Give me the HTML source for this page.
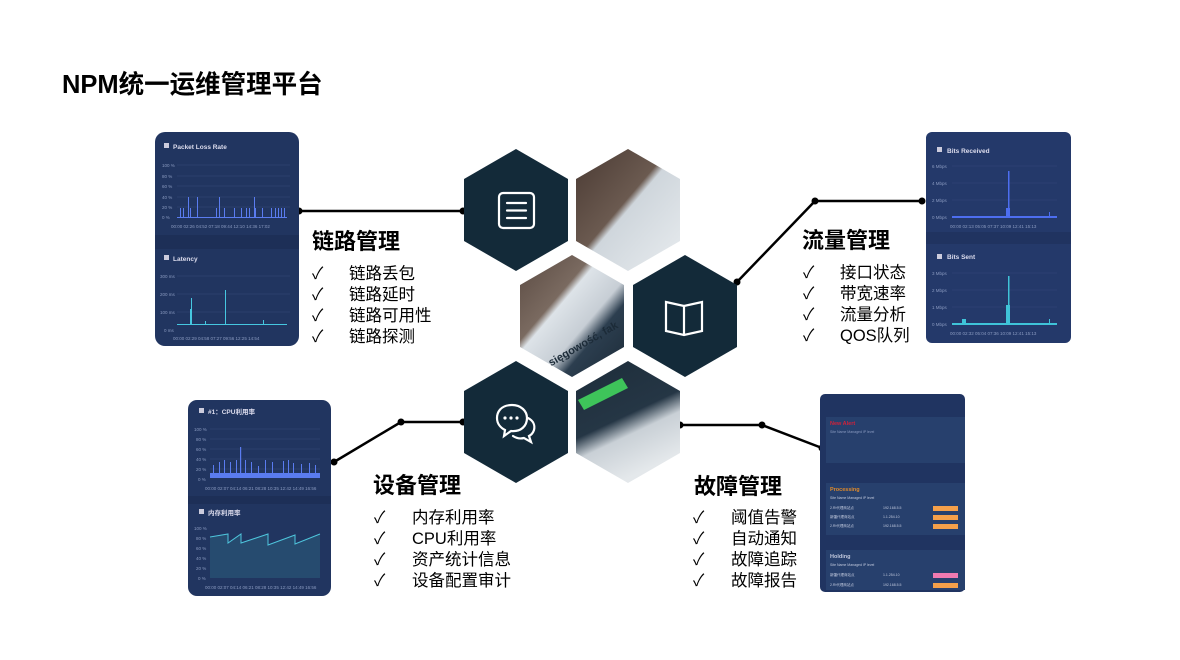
<!DOCTYPE html>
<html><head><meta charset="utf-8"><style>
html,body{margin:0;padding:0;background:#fff;width:1180px;height:660px;overflow:hidden}
svg text{font-family:"Liberation Sans","Noto Sans CJK SC",sans-serif}
</style></head><body>
<svg width="1180" height="660" viewBox="0 0 1180 660" xmlns="http://www.w3.org/2000/svg">
<defs>
<linearGradient id="wood" x1="0" y1="0" x2="1" y2="1"><stop offset="0" stop-color="#4a3a33"/><stop offset="0.45" stop-color="#6b5a50"/><stop offset="0.5" stop-color="#cfd6dc"/><stop offset="1" stop-color="#e8ecef"/></linearGradient>
<linearGradient id="mid" x1="0" y1="0" x2="1" y2="1"><stop offset="0" stop-color="#5a4a42"/><stop offset="0.35" stop-color="#7a6a60"/><stop offset="0.4" stop-color="#dde3e8"/><stop offset="0.6" stop-color="#c7ced5"/><stop offset="0.7" stop-color="#2c3e4f"/><stop offset="1" stop-color="#1c2b38"/></linearGradient>
<linearGradient id="bot" x1="0" y1="0" x2="0.4" y2="1"><stop offset="0" stop-color="#1d2d3a"/><stop offset="0.55" stop-color="#253645"/><stop offset="0.7" stop-color="#c9d0d6"/><stop offset="1" stop-color="#e4e8eb"/></linearGradient>
</defs>

<text x="62" y="93" font-size="25.5" font-weight="bold" fill="#000">NPM统一运维管理平台</text>

<g stroke="#000" stroke-width="2.5" fill="none">
<polyline points="299,211 463,211"/>
<polyline points="737,282 815,201 922,201"/>
<polyline points="334,462 401,422 463,422"/>
<polyline points="680,425 762,425 822,448"/>
</g>
<g fill="#000">
<circle cx="299" cy="211" r="3.5"/><circle cx="463" cy="211" r="3.5"/>
<circle cx="737" cy="282" r="3.5"/><circle cx="815" cy="201" r="3.5"/><circle cx="922" cy="201" r="3.5"/>
<circle cx="334" cy="462" r="3.5"/><circle cx="401" cy="422" r="3.5"/><circle cx="463" cy="422" r="3.5"/>
<circle cx="680" cy="425" r="3.5"/><circle cx="762" cy="425" r="3.5"/><circle cx="822" cy="448" r="3.5"/>
</g>

<polygon points="516,149 568,179 568,241 516,271 464,241 464,179" fill="#132a39"/>
<polygon points="628,149 680,179 680,241 628,271 576,241 576,179" fill="url(#wood)"/>
<polygon points="572,255 624,285 624,347 572,377 520,347 520,285" fill="url(#mid)"/>
<polygon points="685,255 737,285 737,347 685,377 633,347 633,285" fill="#132a39"/>
<polygon points="516,361 568,391 568,453 516,483 464,453 464,391" fill="#132a39"/>
<polygon points="628,361 680,391 680,453 628,483 576,453 576,391" fill="url(#bot)"/>
<polygon points="578,400 622,378 628,388 584,410" fill="#3ec45a"/>
<text x="545" y="360" font-size="11" font-weight="bold" fill="#1c2b38" transform="rotate(-30 560 352)">sięgowość, fak</text>

<g stroke="#fff" stroke-width="2.2" fill="none" stroke-linecap="round">
<rect x="499" y="193" width="35" height="35" rx="4"/>
<line x1="507" y1="203" x2="526" y2="203"/><line x1="507" y1="210.5" x2="526" y2="210.5"/><line x1="507" y1="218" x2="526" y2="218"/>
<path d="M666,302 L684,306 L702,302 L702,331 L684,335 L666,331 Z"/><line x1="684" y1="306" x2="684" y2="335"/>
<path d="M512,405 c-12,0 -15,8 -15,13 c0,6 4,10 8,12 l-1,6 l7,-5 c10,1 16,-5 16,-13 c0,-7 -6,-13 -15,-13 z"/>
<path d="M528,418 c6,3 7,8 6,12 c-1,3 -3,5 -5,6 l2,6 l-7,-4 c-4,1 -8,0 -11,-2"/>
</g>
<g fill="#fff"><circle cx="505" cy="418" r="1.6"/><circle cx="511" cy="418" r="1.6"/><circle cx="517" cy="418" r="1.6"/></g>

<rect x="155" y="132" width="144" height="214" rx="10" fill="#213560"/>
<rect x="155" y="235" width="144" height="14" fill="#1d2f57"/>
<rect x="164" y="143" width="5" height="5" fill="#ccd"/><text x="173" y="149" font-size="6.5" fill="#dde" font-weight="bold">Packet Loss Rate</text>
<g stroke="#34497a" stroke-width="0.5"><line x1="177" y1="165" x2="290" y2="165"/><line x1="177" y1="176" x2="290" y2="176"/><line x1="177" y1="186" x2="290" y2="186"/><line x1="177" y1="197" x2="290" y2="197"/><line x1="177" y1="207" x2="290" y2="207"/></g>
<g font-size="4.5" fill="#8a9ac0"><text x="162" y="167">100 %</text><text x="162" y="178">80 %</text><text x="162" y="188">60 %</text><text x="162" y="199">40 %</text><text x="162" y="209">20 %</text><text x="162" y="219">0 %</text>
<text x="171" y="228">00:00  02:26  04:52  07:18  09:44  12:10  14:36  17:02</text></g>
<g fill="#5a7cf0"><rect x="180" y="208" width="1" height="10"/><rect x="183" y="208" width="1" height="10"/><rect x="188" y="197" width="1" height="21"/><rect x="190" y="208" width="1" height="10"/><rect x="197" y="197" width="1" height="21"/><rect x="216" y="208" width="1" height="10"/><rect x="219" y="197" width="1" height="21"/><rect x="224" y="208" width="1" height="10"/><rect x="234" y="208" width="1" height="10"/><rect x="241" y="208" width="1" height="10"/><rect x="246" y="208" width="1" height="10"/><rect x="249" y="208" width="1" height="10"/><rect x="254" y="197" width="1" height="21"/><rect x="255" y="208" width="1" height="10"/><rect x="262" y="208" width="1" height="10"/><rect x="271" y="208" width="1" height="10"/><rect x="275" y="208" width="1" height="10"/><rect x="278" y="208" width="1" height="10"/><rect x="281" y="208" width="1" height="10"/><rect x="284" y="208" width="1" height="10"/><rect x="177" y="217" width="110" height="1"/></g>
<rect x="164" y="255" width="5" height="5" fill="#ccd"/><text x="173" y="261" font-size="6.5" fill="#dde" font-weight="bold">Latency</text>
<g stroke="#34497a" stroke-width="0.5"><line x1="177" y1="276" x2="290" y2="276"/><line x1="177" y1="294" x2="290" y2="294"/><line x1="177" y1="312" x2="290" y2="312"/></g>
<g font-size="4.5" fill="#8a9ac0"><text x="160" y="278">300 ms</text><text x="160" y="296">200 ms</text><text x="160" y="314">100 ms</text><text x="164" y="332">0 ms</text>
<text x="173" y="340">00:00  02:29  04:58  07:27  09:56  12:25  14:54</text></g>
<g fill="#46c7e0"><rect x="177" y="324" width="110" height="1"/><rect x="191" y="298" width="1" height="26"/><rect x="190" y="309" width="1" height="15"/><rect x="225" y="290" width="1" height="34"/><rect x="205" y="321" width="1" height="3"/><rect x="263" y="320" width="1" height="4"/></g>

<rect x="926" y="132" width="145" height="211" rx="6" fill="#24396a"/>
<rect x="926" y="232" width="145" height="12" fill="#203360"/>
<rect x="937" y="147" width="5" height="5" fill="#ccd"/><text x="947" y="153" font-size="6.5" fill="#dde" font-weight="bold">Bits Received</text>
<g stroke="#34497a" stroke-width="0.5"><line x1="952" y1="166" x2="1057" y2="166"/><line x1="952" y1="183" x2="1057" y2="183"/><line x1="952" y1="200" x2="1057" y2="200"/></g>
<g font-size="4.5" fill="#8a9ac0"><text x="932" y="168">6 Mbps</text><text x="932" y="185">4 Mbps</text><text x="932" y="202">2 Mbps</text><text x="932" y="219">0 Mbps</text><text x="950" y="228">00:00  02:13  05:05  07:37  10:09  12:41  15:13</text></g>
<g fill="#4d6ef0"><rect x="952" y="216" width="105" height="2"/><rect x="1008" y="171" width="1.5" height="46"/><rect x="1006" y="208" width="4" height="9"/><rect x="1049" y="212" width="1" height="5"/></g>
<rect x="937" y="254" width="5" height="5" fill="#ccd"/><text x="947" y="259" font-size="6.5" fill="#dde" font-weight="bold">Bits Sent</text>
<g stroke="#34497a" stroke-width="0.5"><line x1="952" y1="273" x2="1057" y2="273"/><line x1="952" y1="290" x2="1057" y2="290"/><line x1="952" y1="307" x2="1057" y2="307"/></g>
<g font-size="4.5" fill="#8a9ac0"><text x="932" y="275">3 Mbps</text><text x="932" y="292">2 Mbps</text><text x="932" y="309">1 Mbps</text><text x="932" y="326">0 Mbps</text><text x="950" y="335">00:00  02:32  05:04  07:36  10:09  12:41  15:13</text></g>
<g fill="#3fc3d8"><rect x="952" y="323" width="105" height="2"/><rect x="1008" y="276" width="1.5" height="48"/><rect x="1006" y="305" width="4" height="19"/><rect x="962" y="319" width="4" height="4"/><rect x="1049" y="319" width="1" height="5"/></g>

<rect x="188" y="400" width="143" height="196" rx="9" fill="#213560"/>
<rect x="188" y="496" width="143" height="8" fill="#1d2f57"/>
<rect x="199" y="408" width="5" height="5" fill="#ccd"/><text x="208" y="414" font-size="6.5" fill="#dde" font-weight="bold">#1：CPU利用率</text>
<g stroke="#34497a" stroke-width="0.5"><line x1="210" y1="429" x2="320" y2="429"/><line x1="210" y1="439" x2="320" y2="439"/><line x1="210" y1="449" x2="320" y2="449"/><line x1="210" y1="459" x2="320" y2="459"/><line x1="210" y1="469" x2="320" y2="469"/></g>
<g font-size="4.5" fill="#8a9ac0"><text x="194" y="431">100 %</text><text x="196" y="441">80 %</text><text x="196" y="451">60 %</text><text x="196" y="461">40 %</text><text x="196" y="471">20 %</text><text x="198" y="481">0 %</text><text x="205" y="490">00:00  02:07  04:14  06:21  08:28  10:35  12:42  14:49  16:56</text></g>
<g fill="#5a7cf0"><rect x="210" y="473" width="110" height="5"/>
<rect x="213" y="465" width="1" height="10"/><rect x="219" y="462" width="1" height="12"/><rect x="224" y="460" width="1" height="14"/><rect x="230" y="462" width="1" height="12"/><rect x="236" y="460" width="1" height="14"/><rect x="240" y="447" width="1.2" height="27"/><rect x="245" y="460" width="1" height="14"/><rect x="251" y="462" width="1" height="12"/><rect x="258" y="466" width="1" height="8"/><rect x="265" y="460" width="1" height="14"/><rect x="272" y="462" width="1" height="12"/><rect x="283" y="461" width="1" height="13"/><rect x="288" y="460" width="1" height="14"/><rect x="293" y="463" width="1" height="11"/><rect x="301" y="464" width="1" height="10"/><rect x="309" y="463" width="1" height="11"/><rect x="315" y="465" width="1" height="9"/></g>
<rect x="199" y="509" width="5" height="5" fill="#ccd"/><text x="208" y="515" font-size="6.5" fill="#dde" font-weight="bold">内存利用率</text>
<g font-size="4.5" fill="#8a9ac0"><text x="194" y="530">100 %</text><text x="196" y="540">80 %</text><text x="196" y="550">60 %</text><text x="196" y="560">40 %</text><text x="196" y="570">20 %</text><text x="198" y="580">0 %</text><text x="205" y="589">00:00  02:07  04:14  06:21  08:28  10:35  12:42  14:49  16:56</text></g>
<path d="M210,537 L228,534 L228,543 L241,534 L241,543 L268,534 L268,545 L295,535 L295,544 L320,534 L320,578 L210,578 Z" fill="#2a5a7a" opacity="0.6"/>
<path d="M210,537 L228,534 L228,543 L241,534 L241,543 L268,534 L268,545 L295,535 L295,544 L320,534" stroke="#4ec5dc" stroke-width="1" fill="none"/>

<rect x="820" y="394" width="145" height="198" rx="5" fill="#203461"/>
<rect x="826" y="417" width="139" height="46" fill="#27406d"/>
<text x="830" y="425" font-size="5.5" fill="#d0223a" font-weight="bold">New Alert</text>
<text x="830" y="433" font-size="3.5" fill="#8a9ac0">Site Name        Managed IP        level</text>
<rect x="826" y="483" width="139" height="52" fill="#27406d"/>
<text x="830" y="491" font-size="5.5" fill="#e08a2a" font-weight="bold">Processing</text>
<g font-size="3.5" fill="#c0c8dd"><text x="830" y="499">Site Name        Managed IP        level</text><text x="830" y="509">2.Rt代理商站点</text><text x="883" y="509">192.168.5.5</text><text x="830" y="518">新疆代理商站点</text><text x="883" y="518">1.1.254.10</text><text x="830" y="527">2.Rt代理商站点</text><text x="883" y="527">192.168.5.5</text></g>
<rect x="933" y="506" width="25" height="5" fill="#f5a04a"/><rect x="933" y="515" width="25" height="5" fill="#f5a04a"/><rect x="933" y="524" width="25" height="5" fill="#f5a04a"/>
<rect x="826" y="550" width="139" height="40" fill="#27406d"/>
<text x="830" y="558" font-size="5.5" fill="#c0c8dd" font-weight="bold">Holding</text>
<g font-size="3.5" fill="#c0c8dd"><text x="830" y="566">Site Name        Managed IP        level</text><text x="830" y="576">新疆代理商站点</text><text x="883" y="576">1.1.254.10</text><text x="830" y="586">2.Rt代理商站点</text><text x="883" y="586">192.168.5.5</text></g>
<rect x="933" y="573" width="25" height="5" fill="#f07ab0"/><rect x="933" y="583" width="25" height="5" fill="#f5a04a"/>

<g fill="#000">
<text x="312" y="249" font-size="22" font-weight="bold">链路管理</text>
<g font-size="16.5"><text x="312" y="279">✓</text><text x="349" y="279">链路丢包</text><text x="312" y="300">✓</text><text x="349" y="300">链路延时</text><text x="312" y="321">✓</text><text x="349" y="321">链路可用性</text><text x="312" y="342">✓</text><text x="349" y="342">链路探测</text></g>
<text x="802" y="248" font-size="22" font-weight="bold">流量管理</text>
<g font-size="16.5"><text x="803" y="278">✓</text><text x="840" y="278">接口状态</text><text x="803" y="299">✓</text><text x="840" y="299">带宽速率</text><text x="803" y="320">✓</text><text x="840" y="320">流量分析</text><text x="803" y="341">✓</text><text x="840" y="341">QOS队列</text></g>
<text x="373" y="493" font-size="22" font-weight="bold">设备管理</text>
<g font-size="16.5"><text x="374" y="523">✓</text><text x="412" y="523">内存利用率</text><text x="374" y="544">✓</text><text x="412" y="544">CPU利用率</text><text x="374" y="565">✓</text><text x="412" y="565">资产统计信息</text><text x="374" y="586">✓</text><text x="412" y="586">设备配置审计</text></g>
<text x="694" y="494" font-size="22" font-weight="bold">故障管理</text>
<g font-size="16.5"><text x="693" y="523">✓</text><text x="731" y="523">阈值告警</text><text x="693" y="544">✓</text><text x="731" y="544">自动通知</text><text x="693" y="565">✓</text><text x="731" y="565">故障追踪</text><text x="693" y="586">✓</text><text x="731" y="586">故障报告</text></g>
</g>
</svg>
</body></html>
